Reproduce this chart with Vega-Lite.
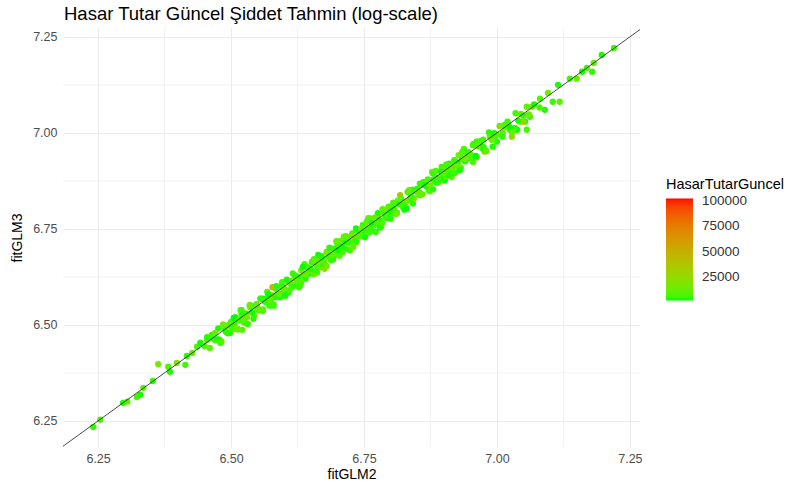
{
  "$schema": "https://vega.github.io/schema/vega-lite/v6.json",
  "width": 577,
  "height": 419,
  "autosize": {"type": "none"},
  "padding": {"left": 63, "top": 28, "right": 165, "bottom": 35},
  "background": "white",
  "title": {"text": "Hasar Tutar Güncel Şiddet Tahmin (log-scale)", "anchor": "start", "frame": "group", "font": "Liberation Sans", "fontSize": 18.5, "fontWeight": "normal", "color": "#000000", "offset": 4, "dx": 1},
  "config": {
    "view": {"stroke": null},
    "font": "Liberation Sans",
    "axis": {"domain": false, "ticks": false, "labelColor": "#4D4D4D", "labelFont": "Liberation Sans", "labelFontSize": 12.5, "titleFont": "Liberation Sans", "titleFontSize": 14, "titleFontWeight": "normal", "titleColor": "#000000", "gridColor": "#EBEBEB", "gridWidth": 1}
  },
  "datasets": {
    "pts": [
      {"x":6.241,"y":6.234,"c":4200},{"x":6.254,"y":6.253,"c":8100},{"x":6.297,"y":6.297,"c":2600},{"x":6.305,"y":6.300,"c":11500},
      {"x":6.323,"y":6.312,"c":6300},{"x":6.329,"y":6.318,"c":3100},{"x":6.335,"y":6.336,"c":9700},{"x":6.353,"y":6.354,"c":5200},
      {"x":6.363,"y":6.398,"c":14800},{"x":6.382,"y":6.391,"c":7400},{"x":6.385,"y":6.378,"c":2900},{"x":6.398,"y":6.401,"c":18500},
      {"x":6.414,"y":6.396,"c":5600},{"x":6.417,"y":6.419,"c":3800},{"x":6.427,"y":6.427,"c":12200},{"x":6.436,"y":6.443,"c":6900},
      {"x":6.442,"y":6.453,"c":2300},{"x":6.455,"y":6.461,"c":9100},{"x":6.464,"y":6.474,"c":4700},{"x":6.479,"y":6.461,"c":31000},
      {"x":6.498,"y":6.479,"c":3400},{"x":6.521,"y":6.487,"c":7800},
      {"x":7.220,"y":7.221,"c":5900},{"x":7.197,"y":7.203,"c":2700},{"x":7.182,"y":7.182,"c":10400},{"x":7.179,"y":7.159,"c":4200},
      {"x":7.169,"y":7.169,"c":8100},{"x":7.160,"y":7.159,"c":2600},{"x":7.150,"y":7.141,"c":11500},{"x":7.137,"y":7.141,"c":6300},
      {"x":7.115,"y":7.125,"c":3100},{"x":7.118,"y":7.081,"c":9700},{"x":7.105,"y":7.081,"c":5200},{"x":7.096,"y":7.104,"c":14800},
      {"x":7.081,"y":7.089,"c":7400},{"x":7.090,"y":7.060,"c":2900},{"x":7.066,"y":7.068,"c":18500},{"x":7.062,"y":7.042,"c":5600},
      {"x":7.053,"y":7.029,"c":3800},{"x":7.043,"y":7.029,"c":12200},{"x":7.056,"y":7.008,"c":6900},{"x":7.038,"y":7.008,"c":2300},
      {"x":7.024,"y":7.008,"c":9100},{"x":7.015,"y":7.021,"c":4700},{"x":7.028,"y":6.990,"c":26000},{"x":7.000,"y":6.977,"c":3400},
      {"x":6.987,"y":6.990,"c":7800},{"x":6.974,"y":6.982,"c":5900},{"x":6.962,"y":6.977,"c":2700},
      {"x":7.056,"y":7.068,"c":10400},{"x":7.049,"y":7.029,"c":33000},{"x":7.034,"y":7.013,"c":4200},{"x":7.028,"y":7.003,"c":8100},
      {"x":7.021,"y":7.021,"c":2600},{"x":7.011,"y":7.000,"c":11500},{"x":6.996,"y":6.990,"c":6300},{"x":6.992,"y":6.964,"c":3100},
      {"x":6.977,"y":6.951,"c":36000},{"x":6.968,"y":6.964,"c":9700},{"x":6.962,"y":6.977,"c":5200},{"x":6.962,"y":6.938,"c":14800},
      {"x":6.955,"y":6.924,"c":7400},{"x":6.944,"y":6.935,"c":2900},{"x":6.936,"y":6.948,"c":18500},{"x":6.930,"y":6.904,"c":5600},
      {"x":6.921,"y":6.922,"c":3800},{"x":6.915,"y":6.885,"c":12200},{"x":6.906,"y":6.904,"c":6900},{"x":6.898,"y":6.883,"c":2300},
      {"x":6.889,"y":6.870,"c":9100},{"x":6.880,"y":6.878,"c":4700},{"x":6.874,"y":6.857,"c":22000},{"x":6.861,"y":6.865,"c":3400},
      {"x":6.855,"y":6.844,"c":7800},{"x":6.842,"y":6.852,"c":5900},{"x":6.836,"y":6.826,"c":2700},{"x":6.823,"y":6.807,"c":10400},
      {"x":6.812,"y":6.792,"c":4200},{"x":6.799,"y":6.786,"c":8100},{"x":6.786,"y":6.799,"c":2600},
      {"x":6.500,"y":6.506,"c":4200},{"x":6.504,"y":6.490,"c":8100},{"x":6.508,"y":6.520,"c":2600},{"x":6.512,"y":6.488,"c":11500},
      {"x":6.516,"y":6.512,"c":6300},{"x":6.520,"y":6.538,"c":3100},{"x":6.524,"y":6.506,"c":9700},{"x":6.528,"y":6.530,"c":5200},
      {"x":6.532,"y":6.502,"c":14800},{"x":6.536,"y":6.546,"c":7400},{"x":6.540,"y":6.532,"c":2900},{"x":6.544,"y":6.524,"c":18500},
      {"x":6.548,"y":6.554,"c":5600},{"x":6.552,"y":6.538,"c":3800},{"x":6.556,"y":6.568,"c":12200},{"x":6.560,"y":6.536,"c":6900},
      {"x":6.564,"y":6.560,"c":2300},{"x":6.568,"y":6.586,"c":9100},{"x":6.572,"y":6.554,"c":4700},{"x":6.576,"y":6.578,"c":29000},
      {"x":6.580,"y":6.550,"c":3400},{"x":6.584,"y":6.594,"c":7800},{"x":6.588,"y":6.580,"c":5900},{"x":6.592,"y":6.572,"c":2700},
      {"x":6.596,"y":6.602,"c":10400},{"x":6.600,"y":6.586,"c":4200},{"x":6.604,"y":6.616,"c":8100},{"x":6.608,"y":6.584,"c":2600},
      {"x":6.612,"y":6.608,"c":11500},{"x":6.616,"y":6.634,"c":6300},{"x":6.620,"y":6.602,"c":3100},{"x":6.624,"y":6.626,"c":9700},
      {"x":6.628,"y":6.598,"c":5200},{"x":6.632,"y":6.642,"c":14800},{"x":6.636,"y":6.628,"c":7400},{"x":6.640,"y":6.620,"c":2900},
      {"x":6.644,"y":6.650,"c":18500},{"x":6.648,"y":6.634,"c":5600},{"x":6.652,"y":6.664,"c":3800},{"x":6.656,"y":6.632,"c":12200},
      {"x":6.660,"y":6.656,"c":6900},{"x":6.664,"y":6.682,"c":2300},{"x":6.668,"y":6.650,"c":9100},{"x":6.672,"y":6.674,"c":4700},
      {"x":6.676,"y":6.646,"c":24000},{"x":6.680,"y":6.690,"c":3400},{"x":6.684,"y":6.676,"c":7800},{"x":6.688,"y":6.668,"c":5900},
      {"x":6.692,"y":6.698,"c":2700},{"x":6.696,"y":6.682,"c":10400},{"x":6.700,"y":6.712,"c":4200},{"x":6.704,"y":6.680,"c":8100},
      {"x":6.708,"y":6.704,"c":2600},{"x":6.712,"y":6.730,"c":11500},{"x":6.716,"y":6.698,"c":6300},{"x":6.720,"y":6.722,"c":3100},
      {"x":6.724,"y":6.694,"c":9700},{"x":6.728,"y":6.738,"c":5200},{"x":6.732,"y":6.724,"c":14800},{"x":6.736,"y":6.716,"c":7400},
      {"x":6.740,"y":6.746,"c":2900},{"x":6.744,"y":6.730,"c":18500},{"x":6.748,"y":6.760,"c":5600},{"x":6.752,"y":6.728,"c":3800},
      {"x":6.756,"y":6.752,"c":12200},{"x":6.760,"y":6.778,"c":6900},{"x":6.764,"y":6.746,"c":2300},{"x":6.768,"y":6.770,"c":9100},
      {"x":6.772,"y":6.742,"c":4700},{"x":6.776,"y":6.786,"c":27000},{"x":6.780,"y":6.772,"c":3400},{"x":6.784,"y":6.764,"c":7800},
      {"x":6.788,"y":6.794,"c":5900},{"x":6.792,"y":6.778,"c":2700},{"x":6.796,"y":6.808,"c":10400},{"x":6.800,"y":6.776,"c":4200},
      {"x":6.470,"y":6.460,"c":8100},{"x":6.476,"y":6.491,"c":2600},{"x":6.482,"y":6.456,"c":11500},{"x":6.488,"y":6.492,"c":6300},
      {"x":6.494,"y":6.478,"c":3100},{"x":6.500,"y":6.508,"c":9700},{"x":6.506,"y":6.503,"c":5200},{"x":6.512,"y":6.490,"c":14800},
      {"x":6.518,"y":6.538,"c":7400},{"x":6.524,"y":6.512,"c":2900},{"x":6.530,"y":6.520,"c":18500},{"x":6.536,"y":6.551,"c":5600},
      {"x":6.542,"y":6.516,"c":3800},{"x":6.548,"y":6.552,"c":12200},{"x":6.554,"y":6.538,"c":6900},{"x":6.560,"y":6.568,"c":2300},
      {"x":6.566,"y":6.563,"c":9100},{"x":6.572,"y":6.550,"c":4700},{"x":6.578,"y":6.598,"c":45000},{"x":6.584,"y":6.572,"c":3400},
      {"x":6.590,"y":6.580,"c":7800},{"x":6.596,"y":6.611,"c":5900},{"x":6.602,"y":6.576,"c":2700},{"x":6.608,"y":6.612,"c":10400},
      {"x":6.614,"y":6.598,"c":4200},{"x":6.620,"y":6.628,"c":8100},{"x":6.626,"y":6.623,"c":2600},{"x":6.632,"y":6.610,"c":11500},
      {"x":6.638,"y":6.658,"c":6300},{"x":6.644,"y":6.632,"c":3100},{"x":6.650,"y":6.640,"c":9700},{"x":6.656,"y":6.671,"c":5200},
      {"x":6.662,"y":6.636,"c":14800},{"x":6.668,"y":6.672,"c":7400},{"x":6.674,"y":6.658,"c":2900},{"x":6.680,"y":6.688,"c":18500},
      {"x":6.686,"y":6.683,"c":5600},{"x":6.692,"y":6.670,"c":3800},{"x":6.698,"y":6.718,"c":12200},{"x":6.704,"y":6.692,"c":6900},
      {"x":6.710,"y":6.700,"c":2300},{"x":6.716,"y":6.731,"c":9100},{"x":6.722,"y":6.696,"c":4700},{"x":6.728,"y":6.732,"c":21000},
      {"x":6.734,"y":6.718,"c":3400},{"x":6.740,"y":6.748,"c":7800},{"x":6.746,"y":6.743,"c":5900},{"x":6.752,"y":6.730,"c":2700},
      {"x":6.758,"y":6.778,"c":10400},{"x":6.764,"y":6.752,"c":4200},{"x":6.770,"y":6.760,"c":8100},{"x":6.776,"y":6.791,"c":2600},
      {"x":6.782,"y":6.756,"c":11500},{"x":6.788,"y":6.792,"c":6300},{"x":6.794,"y":6.778,"c":3100},{"x":6.800,"y":6.808,"c":9700},
      {"x":6.806,"y":6.803,"c":5200},{"x":6.812,"y":6.790,"c":14800},{"x":6.818,"y":6.838,"c":40000},{"x":6.824,"y":6.812,"c":2900},
      {"x":6.830,"y":6.820,"c":18500},{"x":6.836,"y":6.851,"c":5600},{"x":6.842,"y":6.816,"c":3800},{"x":6.848,"y":6.852,"c":12200},
      {"x":6.854,"y":6.838,"c":6900},{"x":6.860,"y":6.868,"c":2300},{"x":6.866,"y":6.863,"c":9100},{"x":6.872,"y":6.850,"c":4700},
      {"x":6.878,"y":6.898,"c":23000},{"x":6.884,"y":6.872,"c":3400},{"x":6.890,"y":6.880,"c":7800},{"x":6.896,"y":6.911,"c":5900},
      {"x":6.902,"y":6.876,"c":2700},{"x":6.908,"y":6.912,"c":10400},{"x":6.914,"y":6.898,"c":4200},{"x":6.920,"y":6.928,"c":8100},
      {"x":6.926,"y":6.923,"c":2600},{"x":6.932,"y":6.910,"c":11500},{"x":6.938,"y":6.958,"c":6300},{"x":6.944,"y":6.932,"c":3100},
      {"x":6.950,"y":6.940,"c":9700},{"x":6.956,"y":6.971,"c":5200},{"x":6.962,"y":6.936,"c":14800},{"x":6.968,"y":6.972,"c":7400},
      {"x":6.974,"y":6.958,"c":2900},
      {"x":6.802,"y":6.806,"c":5600},{"x":6.808,"y":6.790,"c":3800},{"x":6.814,"y":6.824,"c":12200},{"x":6.820,"y":6.812,"c":6900},
      {"x":6.826,"y":6.800,"c":2300},{"x":6.832,"y":6.846,"c":9100},{"x":6.838,"y":6.836,"c":4700},{"x":6.844,"y":6.830,"c":19500},
      {"x":6.850,"y":6.854,"c":3400},{"x":6.856,"y":6.838,"c":7800},{"x":6.862,"y":6.872,"c":5900},{"x":6.868,"y":6.860,"c":2700},
      {"x":6.874,"y":6.848,"c":10400},{"x":6.880,"y":6.894,"c":4200},{"x":6.886,"y":6.884,"c":8100},{"x":6.892,"y":6.878,"c":2600},
      {"x":6.898,"y":6.902,"c":11500},{"x":6.904,"y":6.886,"c":6300},{"x":6.910,"y":6.920,"c":3100},{"x":6.916,"y":6.908,"c":9700},
      {"x":6.922,"y":6.896,"c":5200},{"x":6.928,"y":6.942,"c":14800},{"x":6.934,"y":6.932,"c":7400},{"x":6.940,"y":6.926,"c":2900},
      {"x":6.946,"y":6.950,"c":18500},{"x":6.952,"y":6.934,"c":5600},{"x":6.958,"y":6.968,"c":3800},
      {"x":6.450,"y":6.445,"c":6100},{"x":6.455,"y":6.468,"c":3300},{"x":6.460,"y":6.440,"c":9900},{"x":6.465,"y":6.465,"c":4500},
      {"x":6.470,"y":6.479,"c":12700},{"x":6.475,"y":6.463,"c":2500},{"x":6.480,"y":6.453,"c":7100},{"x":6.485,"y":6.501,"c":16200},
      {"x":6.490,"y":6.482,"c":3900},{"x":6.495,"y":6.499,"c":8700},{"x":6.500,"y":6.495,"c":5300},{"x":6.505,"y":6.518,"c":2100},
      {"x":6.510,"y":6.490,"c":11100},{"x":6.515,"y":6.515,"c":6100},{"x":6.520,"y":6.529,"c":3300},{"x":6.525,"y":6.513,"c":9900},
      {"x":6.530,"y":6.503,"c":4500},{"x":6.535,"y":6.551,"c":12700},{"x":6.540,"y":6.532,"c":2500},{"x":6.545,"y":6.549,"c":7100},
      {"x":6.550,"y":6.545,"c":16200},{"x":6.555,"y":6.568,"c":3900},{"x":6.560,"y":6.540,"c":8700},{"x":6.565,"y":6.565,"c":5300},
      {"x":6.570,"y":6.579,"c":2100},{"x":6.575,"y":6.563,"c":11100},{"x":6.580,"y":6.553,"c":6100},{"x":6.585,"y":6.601,"c":3300},
      {"x":6.590,"y":6.582,"c":9900},{"x":6.595,"y":6.599,"c":4500},{"x":6.600,"y":6.595,"c":12700},{"x":6.605,"y":6.618,"c":2500},
      {"x":6.610,"y":6.590,"c":7100},{"x":6.615,"y":6.615,"c":16200},{"x":6.620,"y":6.629,"c":3900},{"x":6.625,"y":6.613,"c":8700},
      {"x":6.630,"y":6.603,"c":5300},{"x":6.635,"y":6.651,"c":2100},{"x":6.640,"y":6.632,"c":11100},{"x":6.645,"y":6.649,"c":6100},
      {"x":6.650,"y":6.645,"c":3300},{"x":6.655,"y":6.668,"c":9900},{"x":6.660,"y":6.640,"c":4500},{"x":6.665,"y":6.665,"c":12700},
      {"x":6.670,"y":6.679,"c":2500},{"x":6.675,"y":6.663,"c":7100},{"x":6.680,"y":6.653,"c":16200},{"x":6.685,"y":6.701,"c":3900},
      {"x":6.690,"y":6.682,"c":8700},{"x":6.695,"y":6.699,"c":5300},{"x":6.700,"y":6.695,"c":2100},{"x":6.705,"y":6.718,"c":11100},
      {"x":6.710,"y":6.690,"c":6100},{"x":6.715,"y":6.715,"c":3300},{"x":6.720,"y":6.729,"c":9900},{"x":6.725,"y":6.713,"c":4500},
      {"x":6.730,"y":6.703,"c":12700},{"x":6.735,"y":6.751,"c":2500},{"x":6.740,"y":6.732,"c":7100},{"x":6.745,"y":6.749,"c":16200},
      {"x":6.750,"y":6.745,"c":3900},{"x":6.755,"y":6.768,"c":8700},{"x":6.760,"y":6.740,"c":5300},{"x":6.765,"y":6.765,"c":2100},
      {"x":6.770,"y":6.779,"c":11100},{"x":6.775,"y":6.763,"c":6100},{"x":6.780,"y":6.753,"c":3300},{"x":6.785,"y":6.801,"c":9900},
      {"x":6.790,"y":6.782,"c":4500},{"x":6.795,"y":6.799,"c":12700},{"x":6.800,"y":6.795,"c":2500},{"x":6.805,"y":6.818,"c":7100},
      {"x":6.810,"y":6.790,"c":16200},{"x":6.815,"y":6.815,"c":3900},{"x":6.820,"y":6.829,"c":8700},{"x":6.825,"y":6.813,"c":5300},
      {"x":6.830,"y":6.803,"c":2100},{"x":6.835,"y":6.851,"c":11100},{"x":6.840,"y":6.832,"c":6100},{"x":6.845,"y":6.849,"c":3300},
      {"x":6.850,"y":6.845,"c":9900},{"x":6.855,"y":6.868,"c":4500},{"x":6.860,"y":6.840,"c":12700},{"x":6.865,"y":6.865,"c":2500},
      {"x":6.870,"y":6.879,"c":7100},{"x":6.875,"y":6.863,"c":16200},{"x":6.880,"y":6.853,"c":3900},{"x":6.885,"y":6.901,"c":8700},
      {"x":6.890,"y":6.882,"c":5300},{"x":6.895,"y":6.899,"c":2100},{"x":6.900,"y":6.895,"c":11100},{"x":6.905,"y":6.918,"c":6100},
      {"x":6.910,"y":6.890,"c":3300},{"x":6.915,"y":6.915,"c":9900},{"x":6.920,"y":6.929,"c":4500},{"x":6.925,"y":6.913,"c":12700},
      {"x":6.930,"y":6.903,"c":2500},{"x":6.935,"y":6.951,"c":7100},{"x":6.940,"y":6.932,"c":16200},{"x":6.945,"y":6.949,"c":3900},
      {"x":6.950,"y":6.945,"c":8700},{"x":6.955,"y":6.968,"c":5300},{"x":6.960,"y":6.940,"c":2100},{"x":6.965,"y":6.965,"c":11100},
      {"x":6.970,"y":6.979,"c":6100},{"x":6.975,"y":6.963,"c":3300},{"x":6.980,"y":6.953,"c":9900},{"x":6.985,"y":7.001,"c":4500},
      {"x":6.990,"y":6.982,"c":12700},{"x":6.995,"y":6.999,"c":2500},{"x":7.000,"y":6.995,"c":7100},{"x":7.005,"y":7.018,"c":16200},
      {"x":7.010,"y":6.990,"c":3900},{"x":7.015,"y":7.015,"c":8700},{"x":7.020,"y":7.029,"c":5300},{"x":7.025,"y":7.013,"c":2100},
      {"x":7.030,"y":7.003,"c":11100},{"x":7.035,"y":7.051,"c":6100},{"x":7.040,"y":7.032,"c":3300},{"x":7.045,"y":7.049,"c":9900},
      {"x":7.050,"y":7.045,"c":4500},{"x":7.060,"y":7.048,"c":12700},{"x":7.070,"y":7.074,"c":2500},{"x":7.080,"y":7.066,"c":7100}
    ],
    "ref": [{"x": 6.0, "y": 6.0, "x2": 7.6, "y2": 7.6}],
    "minor": [{"g": 6.375}, {"g": 6.625}, {"g": 6.875}, {"g": 7.125}]
  },
  "layer": [
    {
      "data": {"name": "minor"},
      "mark": {"type": "rule", "color": "#EEEEEE", "strokeWidth": 0.8},
      "encoding": {"x": {"field": "g", "type": "quantitative", "title": "fitGLM2"}}
    },
    {
      "data": {"name": "minor"},
      "mark": {"type": "rule", "color": "#EEEEEE", "strokeWidth": 0.8},
      "encoding": {"y": {"field": "g", "type": "quantitative", "title": "fitGLM3"}}
    },
    {
      "data": {"name": "pts"},
      "mark": {"type": "point", "filled": true, "opacity": 1, "size": 40, "shape": "circle"},
      "encoding": {
        "x": {"field": "x", "type": "quantitative", "title": "fitGLM2",
              "scale": {"domain": [6.184, 7.269], "nice": false, "zero": false},
              "axis": {"orient": "bottom", "values": [6.25, 6.5, 6.75, 7.0, 7.25], "format": ".2f", "labelPadding": 5, "titlePadding": 3}},
        "y": {"field": "y", "type": "quantitative", "title": "fitGLM3",
              "scale": {"domain": [6.182, 7.273], "nice": false, "zero": false},
              "axis": {"orient": "left", "values": [6.25, 6.5, 6.75, 7.0, 7.25], "format": ".2f", "labelPadding": 6, "titlePadding": 8}},
        "color": {"field": "c", "type": "quantitative", "title": "HasarTutarGuncel",
                  "scale": {"domain": [2000, 102000], "range": ["#00FF00", "#FF0000"], "interpolate": "lab"},
                  "legend": {"orient": "none", "legendX": 603, "legendY": 150, "direction": "vertical", "values": [25000, 50000, 75000, 100000], "format": "d",
                             "gradientLength": 102, "gradientThickness": 27, "gradientStrokeWidth": 0,
                             "titleFont": "Liberation Sans", "titleFontSize": 14.5, "titleFontWeight": "normal", "titleColor": "#000000", "titlePadding": 6,
                             "labelFont": "Liberation Sans", "labelFontSize": 13.5, "labelColor": "#333333", "labelOffset": 9}}
      }
    },
    {
      "data": {"name": "ref"},
      "mark": {"type": "rule", "color": "#1a1a1a", "strokeWidth": 0.8, "clip": true},
      "encoding": {
        "x": {"field": "x", "type": "quantitative", "title": "fitGLM2"},
        "y": {"field": "y", "type": "quantitative", "title": "fitGLM3"},
        "x2": {"field": "x2"},
        "y2": {"field": "y2"}
      }
    }
  ]
}
